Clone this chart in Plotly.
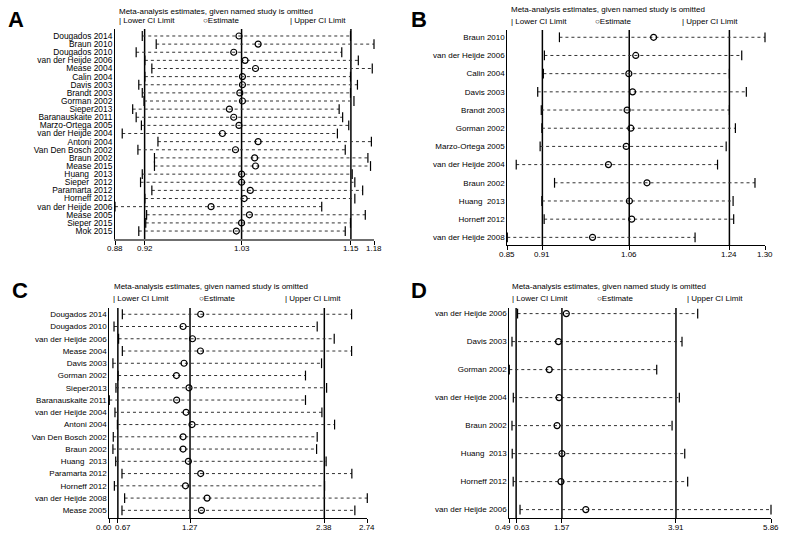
import plotly.graph_objects as go

W, H = 793, 539

# ---------------- data ----------------
a_studies = ["Dougados 2014", "Braun 2010", "Dougados 2010", "van der Heijde 2006", "Mease 2004",
             "Calin 2004", "Davis 2003", "Brandt 2003", "Gorman 2002", "Sieper2013",
             "Baranauskaite 2011", "Marzo-Ortega 2005", "van der Heijde 2004", "Antoni 2004",
             "Van Den Bosch 2002", "Braun 2002", "Mease 2015", "Huang  2013", "Sieper  2012",
             "Paramarta 2012", "Horneff 2012", "van der Heijde 2006", "Mease 2005", "Sieper 2015",
             "Mok 2015"]
a_lower = [0.914, 0.930, 0.907, 0.917, 0.925, 0.917, 0.910, 0.914, 0.916, 0.903,
           0.907, 0.913, 0.891, 0.932, 0.909, 0.928, 0.928, 0.914, 0.912, 0.925,
           0.917, 0.8827, 0.919, 0.918, 0.910]
a_est = [1.025, 1.047, 1.019, 1.032, 1.044, 1.029, 1.029, 1.026, 1.029, 1.014,
         1.019, 1.025, 1.006, 1.047, 1.021, 1.043, 1.044, 1.028, 1.028, 1.038,
         1.031, 0.993, 1.037, 1.028, 1.022]
a_upper = [1.153, 1.180, 1.143, 1.162, 1.178, 1.153, 1.161, 1.153, 1.157, 1.140,
           1.144, 1.151, 1.138, 1.177, 1.147, 1.173, 1.176, 1.155, 1.158, 1.167,
           1.158, 1.120, 1.170, 1.153, 1.147]
a_overall = [0.9167, 1.028, 1.1535]  # lower CI, estimate, upper CI

b_studies = ["Braun 2010", "van der Heijde 2006", "Calin 2004", "Davis 2003", "Brandt 2003",
             "Gorman 2002", "Marzo-Ortega 2005", "van der Heijde 2004", "Braun 2002",
             "Huang  2013", "Horneff 2012", "van der Heijde 2008"]
b_lower = [0.9425, 0.9164, 0.9146, 0.9048, 0.911, 0.912, 0.909, 0.8675, 0.934, 0.912, 0.916, 0.852]
b_est = [1.106, 1.075, 1.063, 1.0695, 1.060, 1.0665, 1.0585, 1.0276, 1.0945, 1.064, 1.068, 1.000]
b_upper = [1.2994, 1.259, 1.2376, 1.267, 1.2376, 1.248, 1.232, 1.217, 1.282, 1.244, 1.245, 1.178]
b_overall = [0.9129, 1.0637, 1.2376]

c_studies = ["Dougados 2014", "Dougados 2010", "van der Heijde 2006", "Mease 2004", "Davis 2003",
             "Gorman 2002", "Sieper2013", "Baranauskaite 2011", "van der Heijde 2004",
             "Antoni 2004", "Van Den Bosch 2002", "Braun 2002", "Huang  2013", "Paramarta 2012",
             "Horneff 2012", "van der Heijde 2008", "Mease 2005"]
c_lower = [0.711, 0.642, 0.680, 0.711, 0.633, 0.676, 0.658, 0.603, 0.650, 0.670,
           0.636, 0.633, 0.656, 0.708, 0.645, 0.730, 0.708]
c_est = [1.360, 1.214, 1.292, 1.358, 1.222, 1.159, 1.263, 1.161, 1.239, 1.288,
         1.214, 1.214, 1.258, 1.360, 1.234, 1.413, 1.366]
c_upper = [2.610, 2.325, 2.466, 2.610, 2.361, 2.228, 2.403, 2.228, 2.364, 2.469,
           2.325, 2.320, 2.399, 2.612, 2.386, 2.740, 2.637]
c_overall = [0.674, 1.2716, 2.384]

d_studies = ["van der Heijde 2006", "Davis 2003", "Gorman 2002", "van der Heijde 2004",
             "Braun 2002", "Huang  2013", "Horneff 2012", "van der Heijde 2006"]
d_lower = [0.66, 0.545, 0.49, 0.572, 0.545, 0.55, 0.57, 0.71]
d_est = [1.66, 1.50, 1.31, 1.51, 1.47, 1.57, 1.55, 2.06]
d_upper = [4.356, 4.034, 3.515, 3.979, 3.83, 4.09, 4.15, 5.86]
d_overall = [0.63, 1.57, 3.91]

title_text = "Meta-analysis estimates, given named study is omitted"
legend_texts = ["| Lower CI Limit", "○Estimate", "| Upper CI Limit"]

# ---------------- layout helpers ----------------
FONT = "Liberation Sans, Arial, sans-serif"


def px(x):
    return x / W


def py(y):
    return 1 - y / H


panels = [
    dict(letter="A", studies=a_studies, lower=a_lower, est=a_est, upper=a_upper, overall=a_overall,
         box=(115, 29, 374, 239), pads=(0.86, 0.98), yfont=8.4, letter_xy=(6, 20),
         title_xy=(117, 11.7), leg_y=20.7, leg_x=(117, 200.7, 288.3),
         axcolor="#6f6f6f", axwidth=2),
    dict(letter="B", studies=b_studies, lower=b_lower, est=b_est, upper=b_upper, overall=b_overall,
         box=(507.3, 30, 765, 245), pads=(0.40, 0.42), yfont=8, letter_xy=(409, 20),
         title_xy=(509.3, 10), leg_y=21, leg_x=(509.3, 592.7, 680),
         axcolor="black", axwidth=1),
    dict(letter="C", studies=c_studies, lower=c_lower, est=c_est, upper=c_upper, overall=c_overall,
         box=(109.3, 308, 367.3, 518.3), pads=(0.51, 0.65), yfont=8, letter_xy=(10, 290),
         title_xy=(112, 286.7), leg_y=298.3, leg_x=(110.7, 196.7, 283.3),
         axcolor="black", axwidth=1),
    dict(letter="D", studies=d_studies, lower=d_lower, est=d_est, upper=d_upper, overall=d_overall,
         box=(509.3, 308, 771, 518), pads=(0.20, 0.30), yfont=8, letter_xy=(409, 290),
         title_xy=(510, 286.7), leg_y=298.3, leg_x=(510, 595, 685),
         axcolor="black", axwidth=1),
]

fig = go.Figure()
layout = dict(
    template="none",
    width=W, height=H, margin=dict(l=0, r=0, t=0, b=0, autoexpand=False),
    paper_bgcolor="white", plot_bgcolor="white", showlegend=False,
    font=dict(family=FONT, color="black", size=8),
)
shapes = []
annotations = []
MIN_SEP = 19  # px between x tick label centres

for i, p in enumerate(panels):
    suf = "" if i == 0 else str(i + 1)
    xa, ya = "x" + suf, "y" + suf
    n = len(p["studies"])
    rows = list(range(n))

    # dotted CI lines
    xs, ys = [], []
    for lo, hi, r in zip(p["lower"], p["upper"], rows):
        xs += [lo, hi, None]
        ys += [r, r, None]
    fig.add_trace(go.Scatter(x=xs, y=ys, mode="lines", xaxis=xa, yaxis=ya,
                             line=dict(color="#333333", width=1, dash="dot"),
                             hoverinfo="skip", cliponaxis=False))
    # lower / upper limit markers
    for vals in (p["lower"], p["upper"]):
        fig.add_trace(go.Scatter(x=vals, y=rows, mode="markers", xaxis=xa, yaxis=ya,
                                 marker=dict(symbol="line-ns", size=7,
                                             line=dict(color="black", width=1.2)),
                                 cliponaxis=False))
    # estimates
    fig.add_trace(go.Scatter(x=p["est"], y=rows, mode="markers", xaxis=xa, yaxis=ya,
                             marker=dict(symbol="circle-open", size=6, color="black",
                                         line=dict(color="black", width=1.2)),
                             cliponaxis=False))

    # overall reference lines
    for v in p["overall"]:
        shapes.append(dict(type="line", xref=xa, yref=ya + " domain", x0=v, x1=v, y0=0, y1=1,
                           line=dict(color="black", width=1.5), layer="below"))

    xmin, xmax = min(p["lower"]), max(p["upper"])
    tickvals = [xmin] + list(p["overall"]) + [xmax]
    ticktext = [f"{v:.2f}" for v in tickvals]

    x0, y0, x1, y1 = p["box"]
    pad_t, pad_b = p["pads"]
    key_x = "xaxis" + suf
    key_y = "yaxis" + suf
    layout[key_x] = dict(
        domain=[px(x0), px(x1)], anchor=ya, range=[xmin, xmax], automargin=False,
        showgrid=False, zeroline=False, showline=True,
        linecolor=p["axcolor"], linewidth=p["axwidth"],
        ticks="outside", ticklen=4, tickcolor="black", tickwidth=1,
        tickvals=tickvals, showticklabels=False,
    )
    layout[key_y] = dict(
        domain=[py(y1), py(y0)], anchor=xa, range=[n - 1 + pad_b, -pad_t], automargin=False,
        showgrid=False, zeroline=False, showline=True, linecolor="black", linewidth=1,
        ticks="", tickvals=rows, ticktext=p["studies"], tickfont=dict(size=p["yfont"]),
    )

    # x tick labels as annotations, pushed apart where they would collide
    scale = (x1 - x0) / (xmax - xmin)
    pos = [(v - xmin) * scale for v in tickvals]
    shifts = [0.0] * len(pos)
    for k in range(len(pos) - 1):
        gap = pos[k + 1] - pos[k]
        if gap < MIN_SEP:
            d = (MIN_SEP - gap) / 2
            shifts[k] -= d
            shifts[k + 1] += d
    for v, t, s in zip(tickvals, ticktext, shifts):
        annotations.append(dict(text=t, xref=xa, yref=ya + " domain", x=v, y=0,
                                xanchor="center", yanchor="middle", xshift=s, yshift=-9,
                                showarrow=False, font=dict(size=8)))

    # panel letter
    lx, ly = p["letter_xy"]
    annotations.append(dict(text="<b>" + p["letter"] + "</b>", xref="paper", yref="paper",
                            x=px(lx), y=py(ly), xanchor="left", yanchor="middle",
                            showarrow=False, font=dict(size=22, family=FONT)))
    tx, ty = p["title_xy"]
    annotations.append(dict(text=title_text, xref="paper", yref="paper",
                            x=px(tx), y=py(ty), xanchor="left", yanchor="middle",
                            showarrow=False, font=dict(size=8)))
    for t, lxx in zip(legend_texts, p["leg_x"]):
        annotations.append(dict(text=t, xref="paper", yref="paper",
                                x=px(lxx), y=py(p["leg_y"]), xanchor="left", yanchor="middle",
                                showarrow=False, font=dict(size=8)))

layout["shapes"] = shapes
layout["annotations"] = annotations
fig.update_layout(**layout)
fig.write_html(
    "out.html",
    config={"displayModeBar": False},
    post_script="document.body.style.margin='0';document.body.style.overflow='hidden';",
)
